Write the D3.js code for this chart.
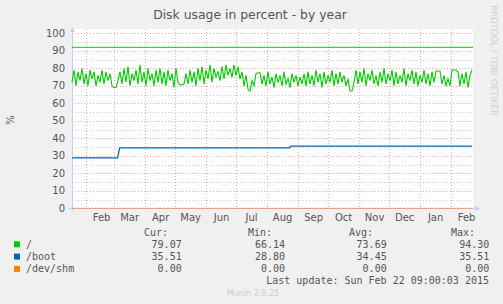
<!DOCTYPE html>
<html>
<head>
<meta charset="utf-8">
<script src="https://cdn.jsdelivr.net/npm/d3@7/dist/d3.min.js"></script>
<style>
  body { margin: 0; background: #f0f0f0; }
  svg { display: block; }
  text { font-family: "DejaVu Sans", sans-serif; }
  .mono { font-family: "DejaVu Sans Mono", monospace; }
</style>
</head>
<body>
<svg id="chart" width="503" height="304"></svg>
<script>
// --- data ---
var startDate = new Date(2014, 0, 18, 9, 0, 0),
    endDate = new Date(2015, 1, 22, 9, 0, 3);

// "/" usage, one reading about every 2 days
var rootValues = [
  72,79,70,78,73,80,71,77,70,79,74,78,70,76,72,79,71,78,73,77,
  70,69,69,73,
  78,71,80,72,81,70,77,73,79,71,82,72,78,70,80,73,77,70,79,72,
  80,71,78,70,79,73,77,69,80,72,70.5,70.5,71,77,71,79,72,78,70,80,73,
  81,71,79,74,82,72,80,75,78,73,81,74,82,76,80,75,82,76,
  81,74,78,70,76,68,67,73,
  70,77,77.5,77.5,71,76,
  70,78,71,75,69,77,72,76,70,78,71,74,69,77,72,76,70,75,71,77,70,78,
  71,76,70,79,72,77,69,78,71,76,72,79,70,77,71,78,72,76,70,74,
  67,67,72,
  79,71,78,72,80,70,77,73,79,71,76,70,78,72,80,71,77,73,79,70,78,71,76,72,80,70,77,73,79,71,78,70,76,72,79,71,77,70,78,72,
  78.5,78.5,78.5,
  71,76,70,74,70,
  79,79,79,78,
  70,77,71,78,69,76,79.07
];

// "/boot" usage steps
var bootDates = [startDate, new Date(2014, 2, 5), new Date(2014, 2, 7), new Date(2014, 7, 24), new Date(2014, 7, 25), endDate];
var bootValues = [28.8, 28.8, 34.5, 34.5, 35.51, 35.51];

// "/dev/shm" usage
var shmDates = [startDate, endDate];
var shmValues = [0, 0];

var warningLevel = 92;

var yTicks = [0, 10, 20, 30, 40, 50, 60, 70, 80, 90, 100];
var yMinorTicks = [5, 15, 25, 35, 45, 55, 65, 75, 85, 95];

var seriesNames = ["/", "/boot", "/dev/shm"];
var seriesColors = ["#00cc00", "#0066b3", "#ff8000"];
var curValues = ["79.07", "35.51", "0.00"];
var minValues = ["66.14", "28.80", "0.00"];
var avgValues = ["73.69", "34.45", "0.00"];
var maxValues = ["94.30", "35.51", "0.00"];
var columnHeads = ["Cur:", "Min:", "Avg:", "Max:"];

// --- chart ---
var svg = d3.select("#chart");

var x = d3.scaleTime().domain([startDate, endDate]).range([72, 472]),
    y = d3.scaleLinear().domain([0, 100]).range([208.3, 33.3]);

// plot background
svg.append("rect")
    .attr("x", 72).attr("y", 29)
    .attr("width", 401).attr("height", 179.5)
    .attr("fill", "#fff");

var grid = svg.append("g").attr("shape-rendering", "crispEdges");

// minor horizontal grid
grid.selectAll(".minor")
    .data(yMinorTicks)
    .enter().append("line")
    .attr("x1", 72).attr("x2", 473)
    .attr("y1", function(d) { return Math.round(y(d)) + 0.5; })
    .attr("y2", function(d) { return Math.round(y(d)) + 0.5; })
    .attr("stroke", "#c8c8c8")
    .attr("stroke-dasharray", "1,2");

// major horizontal grid
grid.selectAll(".major")
    .data(yTicks.slice(1))
    .enter().append("line")
    .attr("x1", 72).attr("x2", 473)
    .attr("y1", function(d) { return Math.round(y(d)) + 0.5; })
    .attr("y2", function(d) { return Math.round(y(d)) + 0.5; })
    .attr("stroke", "#f0a8a8")
    .attr("stroke-dasharray", "1,2");

// month grid
var months = d3.timeMonth.range(d3.timeMonth.ceil(startDate), endDate);
grid.selectAll(".vgrid")
    .data(months)
    .enter().append("line")
    .attr("x1", function(d) { return Math.round(x(d)) + 0.5; })
    .attr("x2", function(d) { return Math.round(x(d)) + 0.5; })
    .attr("y1", 29).attr("y2", 208)
    .attr("stroke", "#f0a8a8")
    .attr("stroke-dasharray", "1,2");

// y tick labels
svg.selectAll(".ylab")
    .data(yTicks)
    .enter().append("text")
    .attr("x", 65)
    .attr("y", function(d) { return y(d) + 3.5; })
    .attr("text-anchor", "end")
    .attr("font-size", 10)
    .attr("fill", "#555")
    .text(function(d) { return d; });

// month labels
var fmt = d3.timeFormat("%b");
svg.selectAll(".xlab")
    .data(months)
    .enter().append("text")
    .attr("x", function(d) { return x(d) + 16; })
    .attr("y", 221)
    .attr("text-anchor", "middle")
    .attr("font-size", 10)
    .attr("fill", "#555")
    .text(function(d) { return fmt(d); });

// axes
svg.append("line")
    .attr("x1", 72.5).attr("x2", 72.5).attr("y1", 31).attr("y2", 211)
    .attr("stroke", "#c8c8ff");
svg.append("path")
    .attr("d", "M70,32L75,32L72.5,27Z")
    .attr("fill", "#c8c8ff");
svg.append("line")
    .attr("x1", 69).attr("x2", 476).attr("y1", 208.5).attr("y2", 208.5)
    .attr("stroke", "#c8c8ff");
svg.append("path")
    .attr("d", "M475,206L475,211L480,208.5Z")
    .attr("fill", "#c8c8ff");

// warning line
svg.append("line")
    .attr("x1", 72).attr("x2", 473)
    .attr("y1", y(warningLevel)).attr("y2", y(warningLevel))
    .attr("stroke", seriesColors[0]);

var step = (endDate - startDate) / (rootValues.length - 1);
var line = d3.line()
    .x(function(d) { return x(d[0]); })
    .y(function(d) { return y(d[1]); });

var rootPts = rootValues.map(function(v, i) { return [new Date(+startDate + i * step), v]; });
svg.append("path")
    .datum(rootPts)
    .attr("d", line)
    .attr("fill", "none")
    .attr("stroke", seriesColors[0])
    .attr("stroke-width", 1.1);

svg.append("path")
    .datum(bootDates.map(function(d, i) { return [d, bootValues[i]]; }))
    .attr("d", line)
    .attr("fill", "none")
    .attr("stroke", seriesColors[1])
    .attr("stroke-width", 1.3);

svg.append("path")
    .datum(shmDates.map(function(d, i) { return [d, shmValues[i]]; }))
    .attr("d", line)
    .attr("fill", "none")
    .attr("stroke", seriesColors[2])
    .attr("stroke-width", 1)
    .attr("stroke-opacity", 0.6);

// title
svg.append("text")
    .attr("x", 250).attr("y", 19)
    .attr("text-anchor", "middle")
    .attr("font-size", 12.4)
    .attr("fill", "#555")
    .text("Disk usage in percent - by year");

// y axis title
svg.append("text")
    .attr("transform", "translate(14,120) rotate(-90)")
    .attr("text-anchor", "middle")
    .attr("font-size", 10)
    .attr("fill", "#555")
    .text("%");

// watermark
svg.append("text")
    .attr("transform", "translate(491,5) rotate(90)")
    .attr("font-size", 8.6)
    .attr("fill", "#d0d0d0")
    .text("RRDTOOL / TOBI OETIKER");

// legend
var colRight = [181.7, 285, 386.7, 489.3],
    headRight = [168, 272, 373, 475];

svg.selectAll(".head")
    .data(columnHeads)
    .enter().append("text")
    .attr("class", "mono")
    .attr("x", function(d, i) { return headRight[i]; })
    .attr("y", 236)
    .attr("text-anchor", "end")
    .attr("font-size", 10)
    .attr("fill", "#555")
    .text(function(d) { return d; });

var rows = svg.selectAll(".row")
    .data(seriesNames)
    .enter().append("g")
    .attr("transform", function(d, i) { return "translate(0," + (244.3 + i * 12.3) + ")"; });

rows.append("rect")
    .attr("x", 14).attr("y", -3).attr("width", 6).attr("height", 6)
    .attr("fill", function(d, i) { return seriesColors[i]; });

rows.append("text")
    .attr("class", "mono")
    .attr("x", 26).attr("y", 3.5)
    .attr("font-size", 10)
    .attr("fill", "#555")
    .text(function(d) { return d; });

[curValues, minValues, avgValues, maxValues].forEach(function(col, c) {
    rows.append("text")
        .attr("class", "mono")
        .attr("x", colRight[c]).attr("y", 3.5)
        .attr("text-anchor", "end")
        .attr("font-size", 10)
        .attr("fill", "#555")
        .text(function(d, i) { return col[i]; });
});

svg.append("text")
    .attr("class", "mono")
    .attr("x", 489).attr("y", 284)
    .attr("text-anchor", "end")
    .attr("font-size", 10)
    .attr("fill", "#555")
    .text("Last update: Sun Feb 22 09:00:03 2015");

svg.append("text")
    .attr("x", 253).attr("y", 296)
    .attr("text-anchor", "middle")
    .attr("font-size", 8)
    .attr("fill", "#ccc")
    .text("Munin 2.0.25");
</script>
</body>
</html>
